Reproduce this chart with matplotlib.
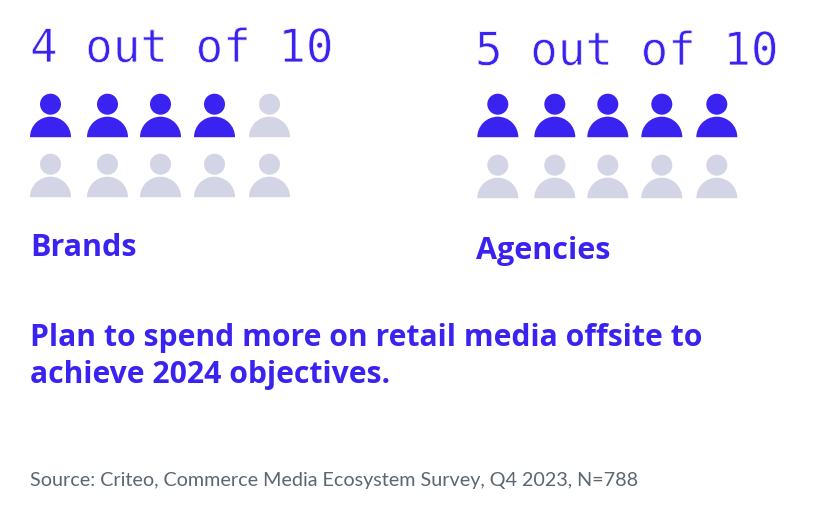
import matplotlib
matplotlib.use("Agg")
import matplotlib.pyplot as plt
import matplotlib.patheffects as pe
from matplotlib.patches import Circle, Wedge

groups = ['Brands', 'Agencies']
filled = [4, 5]
totals = [10, 10]
headlines = ['4 out of 10', '5 out of 10']
note = 'Plan to spend more on retail media offsite to\nachieve 2024 objectives.'
source = 'Source: Criteo, Commerce Media Ecosystem Survey, Q4 2023, N=788'

BLUE = '#3a22f0'
GREY = '#d3d4e5'
SRC = '#5b6670'

fig = plt.figure(figsize=(8.16, 5.10), dpi=100)
ax = fig.add_axes([0, 0, 1, 1])
ax.set_xlim(0, 816)
ax.set_ylim(510, 0)
ax.axis('off')

def person(cx, base, c):
    ax.add_patch(Circle((cx, base - 33), 10.5, fc=c, ec='none'))
    ax.add_patch(Wedge((cx, base), 20.5, 180, 360, fc=c, ec='none'))

col_x = [[50.5, 107.5, 160.5, 214.5, 269.5], [497.8, 554.8, 607.8, 661.8, 716.8]]
row_base = [[138.2, 198.2], [138.2, 199.2]]
head_x = [30, 475]
head_y = [63, 66]
label_y = [248, 251]
label_x = [30, 476]

for g in range(len(groups)):
    # thin the mono face a bit, the original is a light weight
    t = ax.text(head_x[g], head_y[g], headlines[g], fontsize=33, color=BLUE,
                family='DejaVu Sans Mono', ha='left', va='baseline')
    t.set_path_effects([pe.Normal(), pe.Stroke(linewidth=0.6, foreground='white')])
    n = 0
    for base in row_base[g]:
        for cx in col_x[g]:
            person(cx, base, BLUE if n < filled[g] else GREY)
            n += 1
    ax.text(label_x[g], label_y[g], groups[g], fontsize=22, color=BLUE,
            family='Open Sans', fontweight='bold', ha='left', va='center')

ax.text(30, 356.5, note, fontsize=21.7, color=BLUE, family='Open Sans', fontweight='bold',
        ha='left', va='center', linespacing=1.34)
ax.text(30, 481, source, fontsize=14.2, color=SRC, family='Lato', ha='left', va='center')

fig.savefig('out.png', dpi=100)
